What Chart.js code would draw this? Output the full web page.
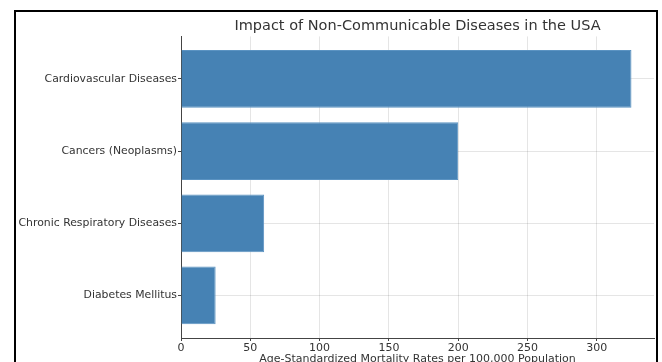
<!DOCTYPE html>
<html>
<head>
<meta charset="utf-8">
<script src="https://cdn.jsdelivr.net/npm/chart.js@4"></script>
<style>
html,body{margin:0;padding:0;background:#fff;overflow:hidden;width:662px;height:362px;}
#frame{position:absolute;left:14px;top:10px;width:644px;height:400px;border:2px solid #000;box-sizing:border-box;}
#wrap{position:absolute;left:0;top:0;width:662px;height:366px;}
</style>
</head>
<body>
<div id="frame"></div>
<div id="wrap"><canvas id="c" width="662" height="366"></canvas></div>
<script>
const categories = ["Cardiovascular Diseases", "Cancers (Neoplasms)", "Chronic Respiratory Diseases", "Diabetes Mellitus"];
const mortality = [325, 200, 60, 25];
const xTicks = [0, 50, 100, 150, 200, 250, 300];
const titleText = "Impact of Non-Communicable Diseases in the USA";
const xTitle = "Age-Standardized Mortality Rates per 100,000 Population";

const FONT = "'DejaVu Sans', sans-serif";
const gridColor = 'rgba(0,0,0,0.10)';
const axisColor = '#444';
const textColor = '#333';

const titleOverPlot = {
  id: 'titleOverPlot',
  afterLayout(chart) {
    const t = chart.titleBlock;
    if (t) { t.left = chart.chartArea.left; t.right = chart.chartArea.right; t.width = t.right - t.left; }
  }
};

new Chart(document.getElementById('c'), {
  type: 'bar',
  data: {
    datasets: [{
      data: mortality.map((v, i) => ({ x: v, y: i })),
      backgroundColor: '#4682B4',
      borderColor: '#5b93c2',
      borderWidth: 1,
      barPercentage: 0.8,
      categoryPercentage: 1.0
    }]
  },
  plugins: [titleOverPlot],
  options: {
    indexAxis: 'y',
    responsive: false,
    animation: false,
    devicePixelRatio: 1,
    layout: { padding: { left: 0, right: 8, top: 0, bottom: 0 } },
    plugins: {
      legend: { display: false },
      tooltip: { enabled: false },
      title: {
        display: true,
        text: titleText,
        color: textColor,
        font: { family: FONT, size: 14.5, weight: 'normal' },
        padding: { top: 18, bottom: 1 },
        align: 'center'
      }
    },
    scales: {
      x: {
        type: 'linear',
        min: 0,
        max: 341.25,
        z: 1,
        afterBuildTicks: s => { s.ticks = xTicks.map(v => ({ value: v })); },
        ticks: { color: textColor, font: { family: FONT, size: 11 }, padding: 1, maxRotation: 0 },
        grid: { color: gridColor, borderDash: [1, 2], tickLength: 3, tickColor: axisColor, tickBorderDash: [] },
        border: { display: true, color: axisColor, width: 1 },
        title: { display: true, text: xTitle, color: textColor, font: { family: FONT, size: 11 }, padding: { top: 2, bottom: 0 } },
        afterFit: s => { s.height = 366 - 338; }
      },
      y: {
        type: 'linear',
        min: -0.59,
        max: 3.59,
        reverse: true,
        offset: false,
        z: 1,
        afterBuildTicks: s => { s.ticks = categories.map((c, i) => ({ value: i })); },
        ticks: {
          color: textColor,
          font: { family: FONT, size: 10.85 },
          padding: 1,
          callback: v => categories[v]
        },
        grid: { offset: false, color: gridColor, borderDash: [1, 2], tickLength: 3, tickColor: axisColor, tickBorderDash: [] },
        border: { display: true, color: axisColor, width: 1 },
        afterFit: s => { s.width = 181; }
      }
    }
  }
});
</script>
</body>
</html>
